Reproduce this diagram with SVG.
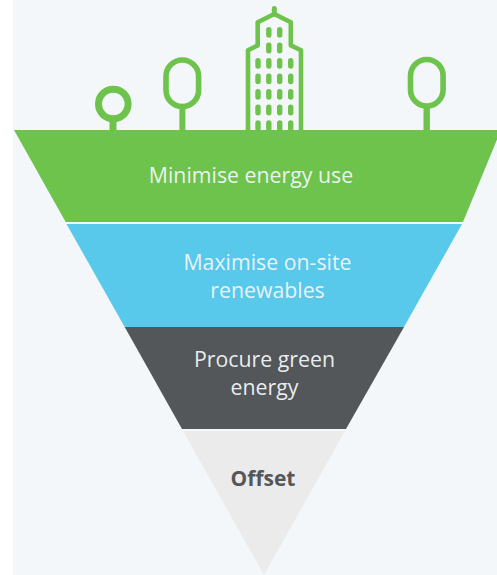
<svg xmlns="http://www.w3.org/2000/svg" width="497" height="575" viewBox="0 0 497 575">
<style>
.g{fill:none;stroke:#6ec34d;stroke-linejoin:round}
.w{fill:#6ec34d}
.t{font-family:"Open Sans",sans-serif;font-size:21.3px;text-anchor:middle;fill:#f3f7fa;fill-opacity:.94}
</style>
<defs><rect id="win" x="-2.7" y="-5.4" width="5.4" height="10.8" rx="2.7" class="w"/></defs>
<rect width="497" height="575" fill="#fff"/>
<rect x="13" width="484" height="575" fill="#f3f7fa"/>
<g id="city">
<g id="tree1"><circle cx="113.3" cy="104" r="14.8" class="g" stroke-width="7"/><rect x="109.5" y="118" width="7" height="13" class="w"/></g>
<g id="tree2"><rect x="166" y="60" width="32.6" height="46.6" rx="16.3" class="g" stroke-width="5.6"/><rect x="179.4" y="108" width="6" height="23" class="w"/></g>
<g id="tree3"><rect x="410.5" y="59.5" width="32.6" height="46.6" rx="16.3" class="g" stroke-width="5.6"/><rect x="423.5" y="107" width="6.4" height="24" class="w"/></g>
<g id="building">
<path d="M248 131V50.3L257.7 45.4V22.2L274.3 14L290.8 22.2V45.4L301 50.3V131" class="g" stroke-width="4.6"/>
<path d="M274.3 14V8.5" class="g" stroke-width="5" stroke-linecap="round"/>
<use href="#win" x="268.8" y="32.3"/><use href="#win" x="279.7" y="32.3"/>
<use href="#win" x="268.8" y="48"/><use href="#win" x="279.7" y="48"/>
<use href="#win" x="258" y="63.4"/><use href="#win" x="268.8" y="63.4"/><use href="#win" x="279.7" y="63.4"/><use href="#win" x="290.7" y="63.4"/>
<use href="#win" x="258" y="78.8"/><use href="#win" x="268.8" y="78.8"/><use href="#win" x="279.7" y="78.8"/><use href="#win" x="290.7" y="78.8"/>
<use href="#win" x="258" y="94.4"/><use href="#win" x="268.8" y="94.4"/><use href="#win" x="279.7" y="94.4"/><use href="#win" x="290.7" y="94.4"/>
<use href="#win" x="258" y="110"/><use href="#win" x="268.8" y="110"/><use href="#win" x="279.7" y="110"/><use href="#win" x="290.7" y="110"/>
<use href="#win" x="258" y="125.7"/><use href="#win" x="268.8" y="125.7"/><use href="#win" x="279.7" y="125.7"/><use href="#win" x="290.7" y="125.7"/>
</g>
</g>
<g id="level1"><polygon points="14,130 497,130 497,139.5 463,222 65.7,222" fill="#6ec34d"/><text class="t" x="251" y="183">Minimise energy use</text></g>
<g id="level2"><polygon points="66.5,224 462,224 404,327 124.7,327" fill="#58c9ea"/><text class="t" x="267.5" y="270">Maximise on-site</text><text class="t" x="267.5" y="298">renewables</text></g>
<g id="level3"><polygon points="124.7,327 404,327 346,429 182,429" fill="#54575a"/><text class="t" x="264.5" y="367">Procure green</text><text class="t" x="264.5" y="395">energy</text></g>
<g id="level4"><polygon points="183,431 345,431 264,575" fill="#ebebeb"/><text x="263" y="485.5" font-family="'Open Sans',sans-serif" font-size="21" font-weight="700" text-anchor="middle" fill="#54575a">Offset</text></g>
</svg>
